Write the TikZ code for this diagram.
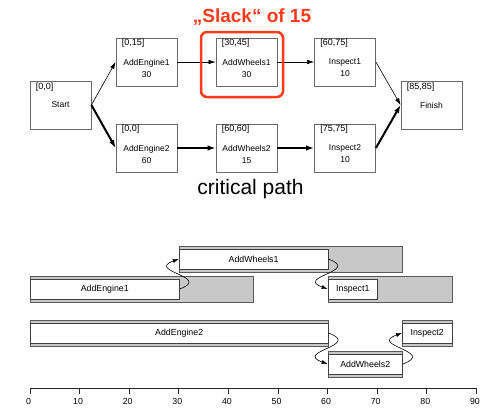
\documentclass[tikz,border=0pt]{standalone}
\usepackage{fontspec}
\setmainfont{Liberation Sans}
\usetikzlibrary{arrows.meta}
\definecolor{slackred}{HTML}{FF3A1A}
\definecolor{barfill}{HTML}{C8C8C8}
\definecolor{boxline}{HTML}{6A6A6A}

\begin{document}
\begin{tikzpicture}[x=1pt,y=-1pt,
  task/.style={draw=boxline, line width=0.8pt, minimum width=61pt, minimum height=48pt, inner sep=0pt, fill=white},
  brk/.style={font=\fontsize{9}{10}\selectfont, inner sep=0pt, anchor=north west},
  tname/.style={font=\fontsize{8.5}{12}\selectfont, align=center, inner sep=0pt},
  lightedge/.style={draw=black, line width=0.6pt, -{Latex[length=7pt,width=4.5pt]}},
  critedge/.style={draw=black, line width=2pt, -{Latex[length=8pt,width=5.5pt]}},
  slackbox/.style={draw=slackred, line width=2.5pt, rounded corners=6pt, minimum width=82pt, minimum height=65pt, inner sep=0pt},
  span/.style={draw=black!65, fill=barfill, line width=0.8pt, minimum height=26pt, inner sep=0pt, anchor=west},
  work/.style={draw=black!75, fill=white, line width=0.8pt, minimum height=20pt, inner sep=0pt, anchor=west, font=\fontsize{8.8}{10}\selectfont},
  link/.style={draw=black, line width=0.6pt, -{Latex[length=6pt,width=4pt]}, looseness=3},
  ticklab/.style={font=\fontsize{8.8}{10}\selectfont, inner sep=0pt}
]
\fill[white] (0,0) rectangle (490,407);
\useasboundingbox (0,0) rectangle (490,407);

% ---------- precedence network ----------
\node[task] (start) at (60.5,105) {};
\node[task] (ae1) at (146.5,62) {};
\node[task] (aw1) at (246.5,62) {};
\node[task] (in1) at (345,62) {};
\node[task] (ae2) at (146.5,148) {};
\node[task] (aw2) at (246.5,148) {};
\node[task] (in2) at (345,148) {};
\node[task] (fin) at (431.5,105) {};

\node[brk] (start-b) at ([xshift=6pt,yshift=-2pt]start.north west) {[0,0]};
\node[brk] (ae1-b) at ([xshift=6pt,yshift=-1.5pt]ae1.north west) {[0,15]};
\node[brk] (aw1-b) at ([xshift=6pt,yshift=-1.5pt]aw1.north west) {[30,45]};
\node[brk] (in1-b) at ([xshift=6pt,yshift=-1.5pt]in1.north west) {[60,75]};
\node[brk] (ae2-b) at ([xshift=6pt,yshift=-1.5pt]ae2.north west) {[0,0]};
\node[brk] (aw2-b) at ([xshift=6pt,yshift=-1.5pt]aw2.north west) {[60,60]};
\node[brk] (in2-b) at ([xshift=6pt,yshift=-1.5pt]in2.north west) {[75,75]};
\node[brk] (fin-b) at ([xshift=6pt,yshift=-2pt]fin.north west) {[85,85]};

\node[tname] (start-n) at (start.center) {Start};
\node[tname] (fin-n) at (fin.center) {Finish};
\node[tname] (ae1-n) at ([yshift=-6pt]ae1.center) {AddEngine1\\30};
\node[tname] (aw1-n) at ([yshift=-6pt]aw1.center) {AddWheels1\\30};
\node[tname] (in1-n) at ([yshift=-6pt]in1.center) {Inspect1\\10};
\node[tname] (ae2-n) at ([yshift=-6pt]ae2.center) {AddEngine2\\60};
\node[tname] (aw2-n) at ([yshift=-6pt]aw2.center) {AddWheels2\\15};
\node[tname] (in2-n) at ([yshift=-6pt]in2.center) {Inspect2\\10};

\draw[lightedge] (start.east) -- (ae1.west);
\draw[lightedge] (ae1.east) -- (aw1.west);
\draw[lightedge] (aw1.east) -- (in1.west);
\draw[lightedge] (in1.east) -- (fin.west);
\draw[critedge] (start.east) -- (ae2.west);
\draw[critedge] (ae2.east) -- (aw2.west);
\draw[critedge] (aw2.east) -- (in2.west);
\draw[critedge] (in2.east) -- (fin.west);

\node[slackbox] (slack) at (242,64.5) {};
\node[text=slackred, font=\bfseries\fontsize{19}{22}\selectfont, inner sep=0pt] (slack-t) at (252,17) {„Slack“ of 15};
\node[font=\fontsize{21}{24}\selectfont, inner sep=0pt, anchor=base] (crit-t) at (250.5,194) {critical path};

% ---------- schedule chart ----------
% overall window (grey) and actual duration (white)
\node[span, minimum width=223.2pt] (s-aw1) at (178.8,259) {};
\node[span, minimum width=223.2pt] (s-ae1) at (30,289) {};
\node[span, minimum width=124pt] (s-in1) at (327.6,289) {};
\node[span, minimum width=297.6pt] (s-ae2) at (30,333) {};
\node[span, minimum width=49.6pt] (s-in2) at (402,333) {};
\node[span, minimum width=74.4pt] (s-aw2) at (327.6,364) {};

\node[work, minimum width=148.8pt] (g-aw1) at (178.8,259) {AddWheels1};
\node[work, minimum width=148.8pt] (g-ae1) at (30,289) {AddEngine1};
\node[work, minimum width=49.6pt] (g-in1) at (327.6,289) {Inspect1};
\node[work, minimum width=297.6pt] (g-ae2) at (30,333) {AddEngine2};
\node[work, minimum width=49.6pt] (g-in2) at (402,333) {Inspect2};
\node[work, minimum width=74.4pt] (g-aw2) at (327.6,364) {AddWheels2};

% precedence links (angles are screen angles)
\draw[link] (g-ae1.east) to[out=20,in=200] (g-aw1.west);
\draw[link] (g-aw1.east) to[out=-20,in=160] (g-in1.west);
\draw[link] (g-ae2.east) to[out=-20,in=160] (g-aw2.west);
\draw[link] (g-aw2.east) to[out=20,in=200] (g-in2.west);

% time axis
\draw[line width=0.8pt, black!85] (30,388) -- (476.4,388);
\foreach \v in {0,10,...,90} {
  \draw[line width=0.8pt, black!85] (30+4.96*\v,388) -- ++(0,6);
  \node[ticklab] (tick\v) at (30+4.96*\v-1.5,401) {\v};
}
\end{tikzpicture}
\end{document}
